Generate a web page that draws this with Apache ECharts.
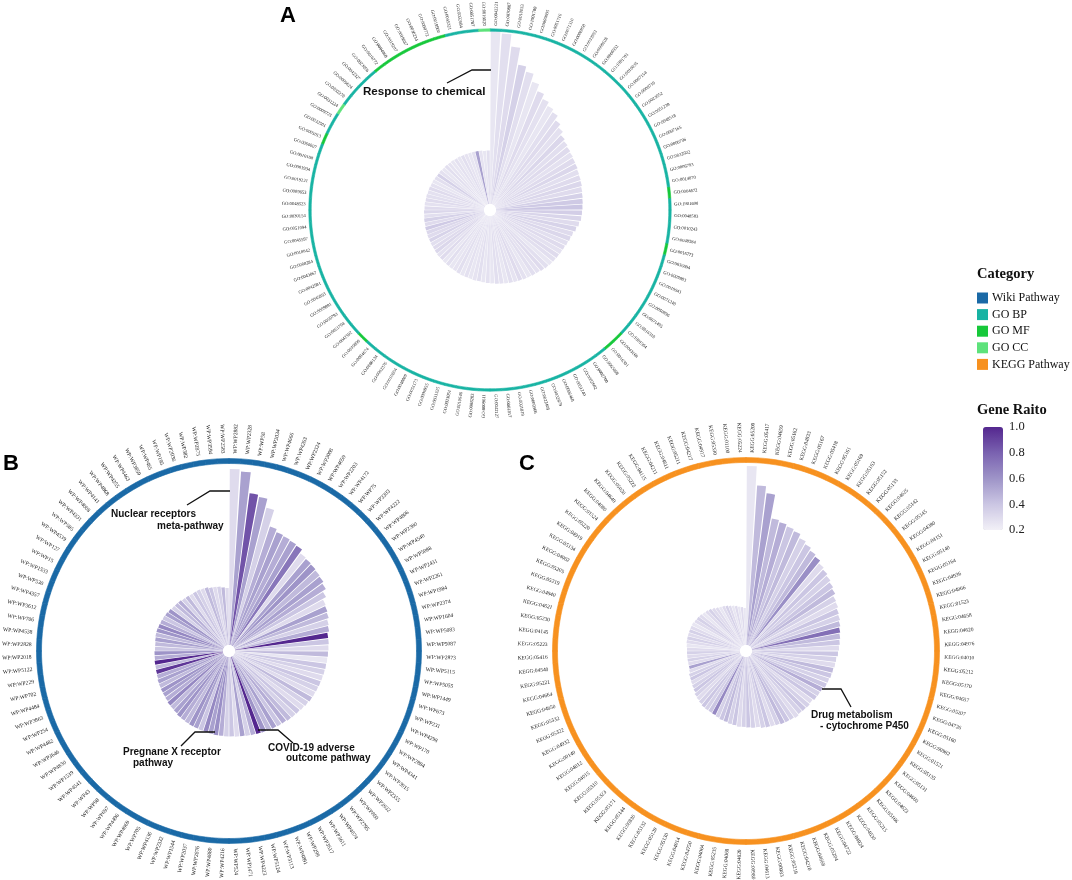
<!DOCTYPE html>
<html><head><meta charset="utf-8">
<script src="https://cdn.jsdelivr.net/npm/echarts@6/dist/echarts.min.js"></script>
<style>html,body{margin:0;padding:0;background:#fff}#c{width:1072px;height:880px}</style>
</head><body><div id="c"></div>
<script>
// ---------- Panel A: GO terms ----------
const aLabels = ['GO:0042221','GO:0070887','GO:0010033','GO:1901700','GO:0009605','GO:0051716','GO:0071310','GO:0006950','GO:0033993','GO:0009628',
'GO:0006952','GO:1901701','GO:0010035','GO:0007154','GO:0009719','GO:0023052','GO:0051239','GO:0048518','GO:0007165','GO:0006796',
'GO:0032502','GO:0006793','GO:0014070','GO:0004672','GO:1901698','GO:0048583','GO:0010243','GO:0048584','GO:0016773','GO:0036094',
'GO:0009893','GO:0010941','GO:0071240','GO:0050896','GO:0071495','GO:0016310','GO:1901564','GO:0043168','GO:0016301','GO:0065008',
'GO:0002700','GO:0002682','GO:0051240','GO:0006468','GO:0032879','GO:0022409','GO:0009966','GO:0001819','GO:0001817','GO:0042127',
'GO:0009611','GO:0008283','GO:0010646','GO:0023051','GO:0031325','GO:0006955','GO:0051173','GO:0048869','GO:0010604','GO:0002376',
'GO:0080134','GO:0004674','GO:0019899','GO:0042592','GO:0051704','GO:0050793','GO:0009891','GO:0045893','GO:0042981','GO:0043067',
'GO:0008284','GO:0010942','GO:0045597','GO:0051094','GO:0030154','GO:0048523','GO:0009653','GO:0019221','GO:0001934','GO:0010108',
'GO:0060007','GO:0005013','GO:0032501','GO:0009725','GO:0031224','GO:0032270','GO:0009624','GO:0042327','GO:0023056','GO:0016772',
'GO:0004860','GO:0019207','GO:0019887','GO:0030234','GO:0098772','GO:0019900','GO:0045321','GO:0002684','GO:0051707','GO:0016020'];
const aValues = [180,177,165,148,143,135,128,123,119,116,
111,107,103,101,99.5,98.5,97.5,97,96,95.5,
95,94,93.5,93,92.5,92,91.5,90,88,86,
85,84,83,82.5,82,81.5,81,80.5,79.5,78.5,
78,77.5,77,76.5,76,75.5,75,74.5,74,73.5,
73,72.5,72,72,71.5,71,71,70.5,70,70,
69.5,69.5,69,69,68.5,68,68,67.5,67.5,67,
67,66.5,66.5,66,66,65.5,65.5,65,65,64.5,
64.5,64,64,63.5,63,63,62.5,62.5,62,62,
61.5,61.5,61,61,60.5,60.5,60,60,59.5,59.5];
const aRatio = [0.25,0.28,0.30,0.35,0.28,0.25,0.30,0.27,0.25,0.28,
0.30,0.27,0.32,0.28,0.30,0.27,0.30,0.32,0.28,0.30,
0.32,0.30,0.35,0.38,0.40,0.36,0.33,0.30,0.34,0.30,
0.32,0.28,0.30,0.27,0.30,0.28,0.25,0.28,0.30,0.27,
0.28,0.25,0.27,0.30,0.26,0.28,0.25,0.27,0.28,0.25,
0.27,0.25,0.28,0.26,0.25,0.27,0.25,0.28,0.26,0.25,
0.28,0.25,0.30,0.27,0.32,0.30,0.28,0.34,0.30,0.32,
0.38,0.30,0.35,0.28,0.32,0.30,0.27,0.30,0.28,0.27,
0.30,0.27,0.25,0.28,0.35,0.27,0.25,0.28,0.26,0.25,
0.27,0.25,0.28,0.26,0.25,0.27,0.55,0.26,0.25,0.28];
const aCategory = ['BP','BP','BP','BP','BP','BP','BP','BP','BP','BP',
'BP','BP','BP','BP','BP','BP','BP','BP','BP','BP',
'BP','BP','BP','MF','BP','BP','BP','BP','MF','BP',
'BP','BP','BP','BP','BP','BP','BP','MF','MF','BP',
'BP','BP','BP','BP','BP','BP','BP','BP','BP','BP',
'BP','BP','BP','BP','BP','BP','BP','BP','BP','BP',
'BP','BP','MF','BP','BP','BP','BP','BP','BP','BP',
'BP','BP','BP','BP','BP','BP','BP','BP','BP','BP',
'BP','MF','BP','BP','CC','BP','BP','BP','BP','MF',
'MF','MF','MF','MF','MF','MF','BP','BP','BP','CC'];

// ---------- Panel B: WikiPathways ----------
const bLabels = ['WP:WP2882','WP:WP2328','WP:WP58','WP:WP2034','WP:WP4666','WP:WP4263','WP:WP2324','WP:WP3008','WP:WP4659','WP:WP2203',
'WP:WP4172','WP:WP75','WP:WP3303','WP:WP4222','WP:WP4806','WP:WP2380','WP:WP4540','WP:WP5088','WP:WP2431','WP:WP2261',
'WP:WP1984','WP:WP2374','WP:WP1604','WP:WP5083','WP:WP5087','WP:WP2873','WP:WP5115','WP:WP5055','WP:WP1449','WP:WP673',
'WP:WP231','WP:WP4298','WP:WP170','WP:WP2884','WP:WP4341','WP:WP3915','WP:WP2355','WP:WP3932','WP:WP860','WP:WP2795',
'WP:WP4674','WP:WP3611','WP:WP3617','WP:WP299','WP:WP4891','WP:WP3113','WP:WP5124','WP:WP4223','WP:WP1471','WP:WP524',
'WP:WP4216','WP:WP4880','WP:WP2876','WP:WP2037','WP:WP1544','WP:WP2332','WP:WP4136','WP:WP705','WP:WP4969','WP:WP4496',
'WP:WP697','WP:WP98','WP:WP43','WP:WP4541','WP:WP1539','WP:WP4830','WP:WP3646','WP:WP4482','WP:WP254','WP:WP3863',
'WP:WP4484','WP:WP702','WP:WP229','WP:WP5122','WP:WP2018','WP:WP2828','WP:WP4538','WP:WP706','WP:WP3612','WP:WP4357',
'WP:WP530','WP:WP1533','WP:WP15','WP:WP127','WP:WP4539','WP:WP585','WP:WP4331','WP:WP4008','WP:WP4141','WP:WP4868',
'WP:WP4255','WP:WP4463','WP:WP3859','WP:WP465','WP:WP195','WP:WP2036','WP:WP382','WP:WP2875','WP:WP3594','WP:WP2583'];
const bValues = [182,180,159,157,148,131,128,127,126,125,
121,120,119,118,117,115,111,107,106,105,
103,102,100,100,99.5,99,98.5,98,97.5,97,
96.5,96,95.5,95,94,93,92,91.5,91,90,
89.5,89,88.5,88,87.5,87,86.5,86,86,85.5,
85.5,85,85,84.5,84,84,83.5,83.5,83,82.5,
82,81,80.5,80,79,78.5,78,77.5,77,76,
75.5,75,75,74.5,74.5,74,74,74.5,75,75,
74.5,74,73.5,73,72,71,70.5,70,69,68.5,
68,68,68,67.5,67,66,65.5,65,64,63];
const bRatio = [0.30,0.55,0.85,0.55,0.35,0.50,0.55,0.50,0.55,0.72,
0.30,0.55,0.60,0.45,0.55,0.50,0.40,0.30,0.55,0.45,
0.35,0.50,1.00,0.40,0.30,0.45,0.25,0.40,0.35,0.30,
0.40,0.35,0.30,0.45,0.35,0.30,0.40,0.35,0.45,0.50,
0.40,0.55,0.45,0.60,1.00,0.50,0.35,0.55,0.30,0.40,
0.35,0.50,0.62,0.55,0.65,0.40,0.55,0.60,0.45,0.50,
0.60,0.55,0.45,0.65,0.50,0.55,0.60,0.45,0.55,0.50,
0.95,0.45,1.00,0.50,0.60,0.40,0.45,0.55,0.45,0.60,
0.65,0.50,0.40,0.55,0.60,0.35,0.45,0.50,0.35,0.45,
0.30,0.40,0.35,0.30,0.45,0.40,0.30,0.35,0.45,0.30];

// ---------- Panel C: KEGG ----------
const cLabels = ['KEGG:05200','KEGG:05417','KEGG:04659','KEGG:05162','KEGG:04933','KEGG:05167','KEGG:05418','KEGG:05161','KEGG:05169','KEGG:05163',
'KEGG:05152','KEGG:05133','KEGG:04625','KEGG:05142','KEGG:05145','KEGG:04380','KEGG:04151','KEGG:05140','KEGG:05164','KEGG:04936',
'KEGG:04066','KEGG:01523','KEGG:04658','KEGG:04620','KEGG:04976','KEGG:04010','KEGG:05212','KEGG:05170','KEGG:04657','KEGG:05207',
'KEGG:04726','KEGG:05160','KEGG:00982','KEGG:01521','KEGG:05135','KEGG:05131','KEGG:04660','KEGG:04623','KEGG:05166','KEGG:05215',
'KEGG:04630','KEGG:04024','KEGG:04722','KEGG:05204','KEGG:04668','KEGG:04210','KEGG:05218','KEGG:00983','KEGG:04613','KEGG:00980',
'KEGG:04020','KEGG:04068','KEGG:05235','KEGG:04064','KEGG:04750','KEGG:04014','KEGG:05130','KEGG:05120','KEGG:05132','KEGG:00830',
'KEGG:05144','KEGG:05171','KEGG:05323','KEGG:05310','KEGG:04015','KEGG:04012','KEGG:00140','KEGG:04932','KEGG:05322','KEGG:05332',
'KEGG:04650','KEGG:04664','KEGG:05221','KEGG:04540','KEGG:05416','KEGG:05223','KEGG:04145','KEGG:05230','KEGG:04621','KEGG:04940',
'KEGG:05219','KEGG:05205','KEGG:04062','KEGG:05134','KEGG:04919','KEGG:05220','KEGG:01524','KEGG:04080','KEGG:04640','KEGG:05020',
'KEGG:05222','KEGG:04115','KEGG:04211','KEGG:04611','KEGG:05211','KEGG:04217','KEGG:04917','KEGG:05330','KEGG:01100','KEGG:05224'];
const cValues = [185,166,159,135,133,131,129,125,122,119,
117,114,112,110,108,106,103,102,100,99,
97.5,96,95,94,93,92,90.5,90,89,88.5,
87.5,87,85,84.5,84,82.5,83,82.5,82,83,
82,81.5,81,80,79.5,79,78.5,77,77,76.5,
76,76,75,74.5,73.5,73,72,71,70.5,70.5,
70,69,68,67,65,64,63,62,61.5,60,
59,59,59,59,59,59,59.5,60,60,60,
60,60,60,59,58.5,58,57,56,55,53.5,
52,51,50,49,48,47,46,45,44,43];
const cRatio = [0.25,0.45,0.55,0.45,0.50,0.40,0.45,0.35,0.40,0.45,
0.62,0.30,0.40,0.35,0.40,0.45,0.35,0.30,0.40,0.35,
0.45,0.75,0.45,0.40,0.30,0.40,0.35,0.30,0.45,0.40,
0.35,0.40,0.50,0.35,0.40,0.30,0.35,0.40,0.35,0.30,
0.35,0.40,0.45,0.35,0.30,0.40,0.35,0.30,0.35,0.40,
0.35,0.30,0.40,0.35,0.45,0.40,0.35,0.65,0.40,0.35,
0.40,0.35,0.30,0.35,0.40,0.35,0.30,0.40,0.35,0.30,
0.55,0.30,0.35,0.30,0.35,0.30,0.25,0.30,0.35,0.30,
0.35,0.30,0.25,0.30,0.35,0.30,0.25,0.30,0.35,0.30,
0.30,0.25,0.30,0.35,0.30,0.25,0.30,0.25,0.30,0.25];

// ---------- Legends ----------
const categoryNames = ['Wiki Pathway','GO BP','GO MF','GO CC','KEGG Pathway'];
const categoryCodes = {BP:'GO BP', MF:'GO MF', CC:'GO CC', WP:'Wiki Pathway', KEGG:'KEGG Pathway'};
const categoryColors = {'Wiki Pathway':'#1a69a6','GO BP':'#17b3a3','GO MF':'#16c83a','GO CC':'#5de27b','KEGG Pathway':'#f7911f'};
const geneRatioTicks = [1.0, 0.8, 0.6, 0.4, 0.2];
const bCategory = bLabels.map(() => 'WP');
const cCategory = cLabels.map(() => 'KEGG');

const panels = [
  {labels:aLabels, values:aValues, ratio:aRatio, cats:aCategory, center:[490,210], R:180, ring:2.4, font:4.6, gap:3.2},
  {labels:bLabels, values:bValues, ratio:bRatio, cats:bCategory, center:[229,651], R:190, ring:5, font:5.6, gap:5},
  {labels:cLabels, values:cValues, ratio:cRatio, cats:cCategory, center:[746,651], R:191, ring:5, font:5.4, gap:5}
];

const polar = [], angleAxis = [], radiusAxis = [], series = [];
const hidden = {axisLine:{show:false}, axisTick:{show:false}, axisLabel:{show:false}, splitLine:{show:false}, splitArea:{show:false}};
panels.forEach((p, k) => {
  polar.push({center:p.center, radius:[6, p.R]});
  polar.push({center:p.center, radius:[p.R - p.ring/2, p.R + p.ring/2]});
  angleAxis.push(Object.assign({polarIndex:2*k, type:'category', data:p.labels, startAngle:90, clockwise:true, boundaryGap:true}, hidden));
  angleAxis.push(Object.assign({polarIndex:2*k+1, type:'category', data:p.labels, startAngle:90, clockwise:true, boundaryGap:true}, hidden));
  radiusAxis.push(Object.assign({polarIndex:2*k, type:'value', min:6, max:p.R, startValue:6}, hidden));
  radiusAxis.push(Object.assign({polarIndex:2*k+1, type:'value', min:0, max:1}, hidden));
});
// bars (series 0..2)
panels.forEach((p, k) => {
  series.push({
    type:'bar', coordinateSystem:'polar', polarIndex:2*k, silent:true,
    data:p.values.map((v, i) => [v, i, p.ratio[i]]),
    encode:{radius:0, angle:1},
    barCategoryGap:'14%', itemStyle:{borderWidth:0}, z:2
  });
});
// category rings (series 3..5)
panels.forEach((p, k) => {
  series.push({
    type:'bar', coordinateSystem:'polar', polarIndex:2*k+1, silent:true,
    barCategoryGap:'0%',
    data:p.cats.map((c, i) => {
      const col = categoryColors[categoryCodes[c]];
      return {value:[1, i], itemStyle:{color:col, borderColor:col, borderWidth:0.6}};
    }),
    encode:{radius:0, angle:1}
  });
});
// radial labels (series 6..8)
panels.forEach((p, k) => {
  series.push({
    type:'custom', coordinateSystem:'polar', polarIndex:2*k+1, silent:true, clip:false,
    data:p.labels.map((l, i) => [1, i]),
    encode:{radius:0, angle:1},
    renderItem:function (params, api) {
      const i = api.value(1);
      const p0 = api.coord([0, i]);
      const p1 = api.coord([1, i]);
      let dx = p1[0] - p0[0], dy = p1[1] - p0[1];
      const len = Math.hypot(dx, dy) || 1;
      dx /= len; dy /= len;
      let rot = Math.atan2(-dy, dx);
      let align = 'left';
      if (dx < -1e-6) { rot += Math.PI; align = 'right'; }
      return {
        type:'text', x:p1[0] + dx*p.gap, y:p1[1] + dy*p.gap, rotation:rot,
        style:{text:p.labels[i], fill:'#222', font:p.font + 'px "Liberation Serif"',
               align:align, textAlign:align, verticalAlign:'middle', textVerticalAlign:'middle'}
      };
    }
  });
});
// legend entries (empty series, only for the legend)
categoryNames.forEach(n => {
  series.push({type:'scatter', coordinateSystem:'polar', polarIndex:0, name:n, data:[], itemStyle:{color:categoryColors[n], opacity:1}});
});

const vmTop = 427, vmH = 103;
const graphic = [];
panels.forEach(p => graphic.push({type:'circle', shape:{cx:p.center[0], cy:p.center[1], r:6}, style:{fill:'#fff'}, z:100}));
geneRatioTicks.forEach(v => graphic.push({
  type:'text', x:1009, y:vmTop + (1 - (v - 0.2)/0.8)*vmH,
  style:{text:v.toFixed(1), font:'12.5px "Liberation Serif"', fill:'#222', verticalAlign:'middle', textVerticalAlign:'middle'}, z:100
}));
const annFont = 'bold 10px "Liberation Sans"';
const ann = [
  {pts:[[491,70],[472,70],[447,83]], texts:[['Response to chemical',363,92,'bold 11.6px "Liberation Sans"']]},
  {pts:[[230,491],[210,491],[187,505]], texts:[['Nuclear receptors',111,514,annFont],['meta-pathway',157,526,annFont]]},
  {pts:[[215,732],[195,732],[181,746]], texts:[['Pregnane X receptor',123,752,annFont],['pathway',133,763,annFont]]},
  {pts:[[258,730],[278,730],[293,743]], texts:[['COVID-19 adverse',268,748,annFont],['outcome pathway',286,758,annFont]]},
  {pts:[[822,689],[841,689],[851,707]], texts:[['Drug metabolism',811,715,annFont],['- cytochrome P450',820,726,annFont]]}
];
ann.forEach(a => {
  graphic.push({type:'polyline', shape:{points:a.pts}, style:{stroke:'#111', lineWidth:1.3, fill:null}, z:100});
  a.texts.forEach(t => graphic.push({type:'text', x:t[1], y:t[2],
    style:{text:t[0], font:t[3], fill:'#111', verticalAlign:'middle', textVerticalAlign:'middle'}, z:100}));
});

const letterStyle = {fontFamily:'Liberation Sans', fontWeight:'bold', fontSize:22, color:'#000'};
const option = {
  backgroundColor:'#fff',
  animation:false,
  title:[
    {text:'A', left:280, top:5, padding:0, textStyle:letterStyle},
    {text:'B', left:3, top:453, padding:0, textStyle:letterStyle},
    {text:'C', left:519, top:453, padding:0, textStyle:letterStyle},
    {text:'Category', left:977, top:267, padding:0, textStyle:{fontFamily:'Liberation Serif', fontWeight:'bold', fontSize:14.5, color:'#111'}},
    {text:'Gene Raito', left:977, top:403, padding:0, textStyle:{fontFamily:'Liberation Serif', fontWeight:'bold', fontSize:14.5, color:'#111'}}
  ],
  legend:{orient:'vertical', left:977, top:292, padding:0, icon:'rect', itemWidth:11, itemHeight:11, itemGap:4.6,
    selectedMode:false, data:categoryNames, itemStyle:{opacity:1},
    textStyle:{fontFamily:'Liberation Serif', fontSize:12, color:'#111', padding:[0,0,0,-1]}},
  visualMap:{type:'continuous', min:0.2, max:1, dimension:2, seriesIndex:[0,1,2], left:983, top:vmTop, padding:0,
    itemWidth:20, itemHeight:vmH, calculable:false, text:null, hoverLink:false,
    inRange:{color:['#f2f0f7','#cbc6e3','#9e94c8','#7a62b0','#54278f']}},
  polar, angleAxis, radiusAxis, series, graphic
};
const chart = echarts.init(document.getElementById('c'), null, {renderer:'canvas'});
chart.setOption(option);
</script></body></html>
